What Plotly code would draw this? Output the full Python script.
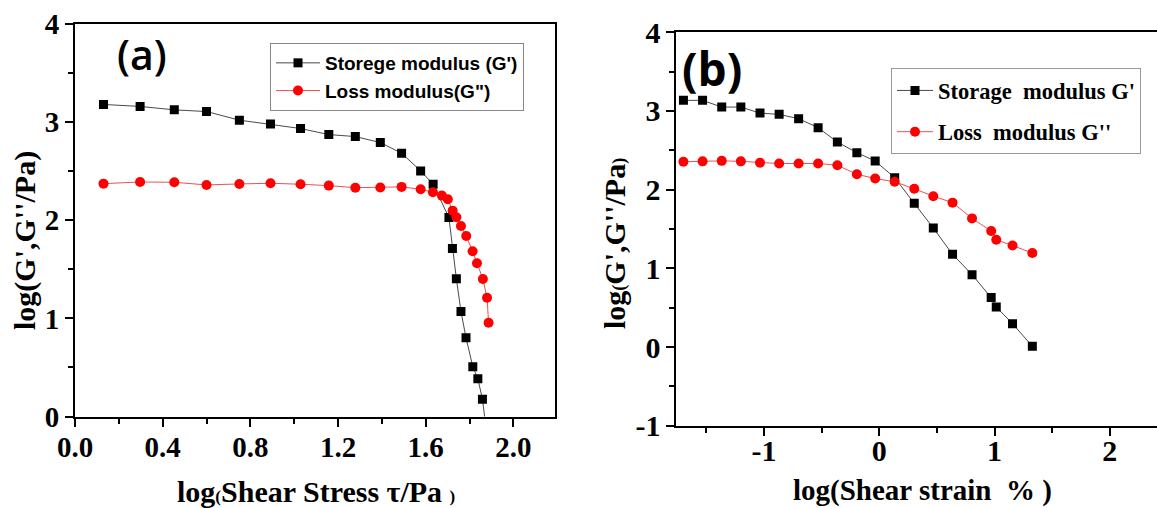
import plotly.graph_objects as go

W, H = 1157, 508

# ---------------- Panel (a) data ----------------
a_storage_x = [0.130, 0.297, 0.453, 0.600, 0.750, 0.892, 1.029, 1.158, 1.279, 1.393, 1.490,
               1.577, 1.634, 1.706, 1.722, 1.740, 1.761, 1.784, 1.815, 1.838, 1.859, 1.880]
a_storage_y = [3.18, 3.16, 3.125, 3.108, 3.02, 2.98, 2.935, 2.873, 2.853, 2.792, 2.683,
               2.503, 2.367, 2.027, 1.711, 1.405, 1.071, 0.803, 0.507, 0.385, 0.177, -0.20]
a_loss_x = [0.130, 0.297, 0.453, 0.600, 0.750, 0.892, 1.029, 1.158, 1.279, 1.393, 1.490,
            1.577, 1.633, 1.674, 1.701, 1.723, 1.740, 1.761, 1.785, 1.814, 1.834, 1.861,
            1.880, 1.887]
a_loss_y = [2.373, 2.39, 2.387, 2.36, 2.37, 2.377, 2.367, 2.353, 2.332, 2.334, 2.34,
            2.316, 2.285, 2.251, 2.214, 2.098, 2.031, 1.942, 1.84, 1.684, 1.562, 1.402,
            1.21, 0.956]

# ---------------- Panel (b) data ----------------
b_x = [-1.698, -1.532, -1.366, -1.200, -1.034, -0.868, -0.699, -0.530, -0.363, -0.194,
       -0.035, 0.134, 0.304, 0.469, 0.636, 0.805, 0.971, 1.015, 1.156, 1.328]
b_storage_y = [3.135, 3.135, 3.05, 3.05, 2.973, 2.957, 2.902, 2.788, 2.605, 2.47,
               2.364, 2.152, 1.826, 1.512, 1.178, 0.92, 0.628, 0.508, 0.297, 0.009]
b_loss_y = [2.355, 2.36, 2.366, 2.36, 2.343, 2.332, 2.332, 2.332, 2.311, 2.195,
            2.142, 2.10, 2.011, 1.917, 1.835, 1.635, 1.474, 1.363, 1.29, 1.194]

# tick definitions
a_xticks = [0.0, 0.4, 0.8, 1.2, 1.6, 2.0]
a_xticklabels = ["0.0", "0.4", "0.8", "1.2", "1.6", "2.0"]
a_xminor = [0.2, 0.6, 1.0, 1.4, 1.8]
a_yticks = [0, 1, 2, 3, 4]
a_yticklabels = ["0", "1", "2", "3", "4"]
a_yminor = [0.5, 1.5, 2.5, 3.5]
b_xticks = [-1, 0, 1, 2]
b_xticklabels = ["-1", "0", "1", "2"]
b_xminor = [-1.5, -0.5, 0.5, 1.5]
b_yticks = [-1, 0, 1, 2, 3, 4]
b_yticklabels = ["-1", "0", "1", "2", "3", "4"]
b_yminor = [-0.5, 0.5, 1.5, 2.5, 3.5]

fig = go.Figure()

fig.add_trace(go.Scatter(x=a_storage_x, y=a_storage_y, mode="lines+markers",
                         name="Storege modulus (G')", legend="legend",
                         line=dict(color="#4a4a4a", width=1),
                         marker=dict(symbol="square", size=9, color="black"),
                         xaxis="x", yaxis="y"))
fig.add_trace(go.Scatter(x=a_loss_x, y=a_loss_y, mode="lines+markers",
                         name="Loss modulus(G\")", legend="legend",
                         line=dict(color="#f05050", width=1),
                         marker=dict(symbol="circle", size=10, color="#ff0000"),
                         xaxis="x", yaxis="y"))
fig.add_trace(go.Scatter(x=b_x, y=b_storage_y, mode="lines+markers",
                         name="Storage  modulus G'", legend="legend2", legendgroup="g1",
                         line=dict(color="#4a4a4a", width=1),
                         marker=dict(symbol="square", size=9, color="black"),
                         xaxis="x2", yaxis="y2"))
fig.add_trace(go.Scatter(x=b_x, y=b_loss_y, mode="lines+markers",
                         name="Loss  modulus G''", legend="legend2", legendgroup="g2",
                         line=dict(color="#f05050", width=1),
                         marker=dict(symbol="circle", size=10, color="#ff0000"),
                         xaxis="x2", yaxis="y2"))

serif = "Liberation Serif"
tickfont_a = dict(family=serif, size=29, color="black", weight="bold")
tickfont_b = dict(family=serif, size=30, color="black", weight="bold")

def ax(domain, rng, tv, tt, minor_vals, font, anchor, mirror=True, standoff=0):
    return dict(domain=domain, range=rng, autorange=False, anchor=anchor,
                automargin=False,
                tickmode="array", tickvals=tv, ticktext=tt,
                ticks="outside", ticklen=8, tickwidth=2, tickcolor="black",
                minor=dict(tickmode="array", tickvals=minor_vals, ticks="outside",
                           ticklen=5, tickwidth=2, tickcolor="black"),
                showline=True, linewidth=2, linecolor="black", mirror=mirror,
                showgrid=False, zeroline=False, tickfont=font, fixedrange=True,
                ticklabelstandoff=standoff)

fig.update_layout(
    template="none",
    width=W, height=H, autosize=False,
    margin=dict(l=0, r=0, t=0, b=0, pad=0, autoexpand=False),
    paper_bgcolor="white", plot_bgcolor="white",
    xaxis=ax([75 / W, 555 / W], [0, 2.19], a_xticks, a_xticklabels, a_xminor, tickfont_a, "y",
             standoff=-4),
    yaxis=ax([(H - 416.5) / H, (H - 24) / H], [0, 4], a_yticks, a_yticklabels, a_yminor, tickfont_a, "x"),
    xaxis2=ax([676.4 / W, 1.0], [-1.759, 2.409], b_xticks, b_xticklabels, b_xminor, tickfont_b, "y2",
              standoff=-11),
    yaxis2=ax([(H - 425.7) / H, (H - 32.3) / H], [-1, 4], b_yticks, b_yticklabels, b_yminor, tickfont_b, "x2",
              mirror=False),
    legend=dict(x=270 / W, y=(H - 43) / H, xanchor="left", yanchor="top",
                bgcolor="white", bordercolor="#888888", borderwidth=1,
                itemwidth=44,
                font=dict(family="Liberation Sans", size=19, color="black", weight="bold"),
                itemclick=False, itemdoubleclick=False),
    legend2=dict(x=891 / W, y=(H - 68.3) / H, xanchor="left", yanchor="top",
                 bgcolor="white", bordercolor="#999999", borderwidth=1,
                 itemwidth=36,
                 tracegroupgap=9, traceorder="grouped",
                 font=dict(family=serif, size=22.5, color="black", weight="bold"),
                 itemclick=False, itemdoubleclick=False),
    showlegend=True,
)

ann = []
title_font = dict(family=serif, size=30, color="black", weight="bold")
ann.append(dict(xref="paper", yref="paper", x=316 / W, y=(H - 491) / H,
                text="log<span style='font-size:17px'>(</span>Shear Stress τ/Pa <span style='font-size:17px'>)</span>",
                showarrow=False, font=title_font, xanchor="center", yanchor="middle"))
ann.append(dict(xref="paper", yref="paper", x=25 / W, y=(H - 241) / H, textangle=-90,
                text="log(G',G''/Pa)", showarrow=False, font=title_font,
                xanchor="center", yanchor="middle"))
ann.append(dict(xref="paper", yref="paper", x=922 / W, y=(H - 490) / H,
                text="log(Shear strain  % )", showarrow=False,
                font=dict(family=serif, size=29, color="black", weight="bold"),
                xanchor="center", yanchor="middle"))
ann.append(dict(xref="paper", yref="paper", x=614 / W, y=(H - 244) / H, textangle=-90,
                text="log<span style='font-size:18px'>(</span>G',G''/Pa<span style='font-size:18px'>)</span>",
                showarrow=False, font=title_font, xanchor="center", yanchor="middle"))
ann.append(dict(xref="paper", yref="paper", x=142 / W, y=(H - 54) / H,
                text="(a)", showarrow=False,
                font=dict(family="Open Sans", size=41, color="black", weight=600),
                xanchor="center", yanchor="middle"))
ann.append(dict(xref="paper", yref="paper", x=712 / W, y=(H - 68) / H,
                text="(b)", showarrow=False,
                font=dict(family="Open Sans", size=46, color="black", weight="bold"),
                xanchor="center", yanchor="middle"))
fig.update_layout(annotations=ann)

fig.write_html("out.html")
